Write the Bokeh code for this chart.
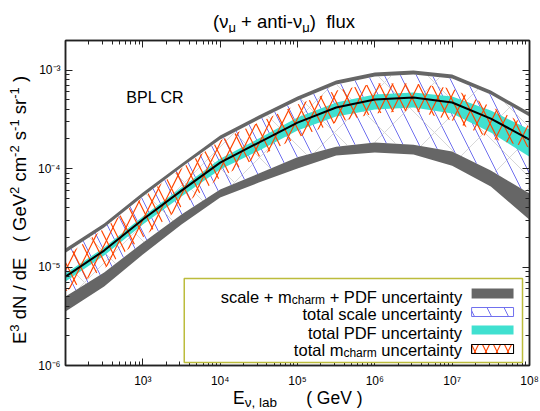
import math
from bokeh.plotting import figure
from bokeh.models import LogAxis, FixedTicker, CustomJSTickFormatter, Label, BoxAnnotation, Div
from bokeh.layouts import column, row
from bokeh.embed import file_html
from bokeh.resources import INLINE

# ---------------- data ----------------
energy_gev = [1.0e2, 3.16e2, 1.0e3, 3.16e3, 1.0e4, 3.16e4, 1.0e5, 3.16e5, 1.0e6, 3.16e6, 1.0e7, 3.16e7, 1.0e8]
central = [8.0e-6, 1.47e-5, 3.04e-5, 5.98e-5, 1.15e-4, 1.84e-4, 2.93e-4, 4.17e-4, 5.03e-4, 5.27e-4, 4.69e-4, 3.22e-4, 1.97e-4]
total_hi = [1.54e-5, 2.77e-5, 5.71e-5, 1.12e-4, 2.17e-4, 3.46e-4, 5.40e-4, 7.84e-4, 9.45e-4, 9.91e-4, 9.02e-4, 6.21e-4, 3.71e-4]
total_lo = [3.53e-6, 6.34e-6, 1.34e-5, 2.71e-5, 5.08e-5, 7.21e-5, 1.00e-4, 1.36e-4, 1.46e-4, 1.39e-4, 1.07e-4, 6.56e-5, 3.03e-5]
scale_hi = [1.40e-5, 2.52e-5, 5.20e-5, 1.03e-4, 1.97e-4, 3.15e-4, 4.91e-4, 7.14e-4, 8.61e-4, 9.02e-4, 8.22e-4, 5.65e-4, 3.38e-4]
scale_lo = [5.01e-6, 8.79e-6, 1.77e-5, 3.41e-5, 6.12e-5, 8.91e-5, 1.30e-4, 1.67e-4, 1.84e-4, 1.75e-4, 1.49e-4, 9.55e-5, 5.58e-5]
pdf_hi = [8.59e-6, 1.58e-5, 3.26e-5, 6.43e-5, 1.26e-4, 2.02e-4, 3.30e-4, 4.69e-4, 5.65e-4, 5.92e-4, 5.40e-4, 3.89e-4, 2.49e-4]
pdf_lo = [7.13e-6, 1.31e-5, 2.71e-5, 5.20e-5, 9.77e-5, 1.52e-4, 2.44e-4, 3.38e-4, 3.98e-4, 4.17e-4, 3.62e-4, 2.32e-4, 1.32e-4]
mcharm_hi = [1.28e-5, 2.46e-5, 5.08e-5, 1.00e-4, 1.93e-4, 2.94e-4, 4.48e-4, 6.21e-4, 7.31e-4, 7.31e-4, 6.50e-4, 4.27e-4, 2.67e-4]
mcharm_lo = [5.64e-6, 9.66e-6, 2.00e-5, 4.12e-5, 8.11e-5, 1.32e-4, 2.07e-4, 2.94e-4, 3.62e-4, 3.89e-4, 3.08e-4, 2.02e-4, 1.64e-4]

x_major = [1e3, 1e4, 1e5, 1e6, 1e7, 1e8]
y_major = [1e-6, 1e-5, 1e-4, 1e-3]
x_minor = [k * 10.0 ** n for n in range(2, 8) for k in range(2, 10)]
y_minor = [k * 10.0 ** n for n in range(-6, -2) for k in range(2, 10)]

XMIN, XMAX = 1e2, 1e8
YMIN, YMAX = 1e-6, 2e-3

FONT = "Liberation Sans"
CSSFONT = "font-family:'Liberation Sans',Arial,sans-serif;color:#000;white-space:nowrap;"
GREY = "#666666"
BLUE = "#7070ee"
TURQ = "#40e0d0"
RED = "#ff4500"

# page layout: title strip 0..32, plot row 32..390, x-label strip 390..411
TITLE_H, MID_H, XLAB_H = 32, 358, 21
YLAB_W = 34
FIG_W = 540 - YLAB_W
# frame in page pixels
FL, FR, FT, FB = 64, 529, 40, 365


def XD(px):
    return 10 ** (math.log10(XMIN) + (px - FL) / (FR - FL) * math.log10(XMAX / XMIN))


def YD(py):
    return 10 ** (math.log10(YMAX) - (py - FT) / (FB - FT) * math.log10(YMAX / YMIN))


p = figure(width=FIG_W, height=MID_H, x_axis_type="log", y_axis_type="log",
           x_range=(XMIN, XMAX), y_range=(YMIN, YMAX), title=None,
           output_backend="svg", toolbar_location=None,
           min_border_left=FL - YLAB_W, min_border_right=FIG_W - (FR - YLAB_W),
           min_border_top=FT - TITLE_H, min_border_bottom=MID_H - (FB - TITLE_H))
p.grid.visible = False
p.outline_line_color = "#222222"
p.outline_line_width = 1.5

sup_js = """
const e = Math.round(Math.log10(tick));
const m = {"-":"\u207b","0":"\u2070","1":"\u00b9","2":"\u00b2","3":"\u00b3","4":"\u2074","5":"\u2075","6":"\u2076","7":"\u2077","8":"\u2078","9":"\u2079"};
return "10" + String(e).split("").map(c => m[c]).join("");
"""
blank_js = "return '';"


def style_axis(ax, ticks, minor, labels=True, standoff=8):
    ax.ticker = FixedTicker(ticks=ticks, minor_ticks=minor)
    ax.major_tick_in = 7
    ax.major_tick_out = 0
    ax.minor_tick_in = 4
    ax.minor_tick_out = 0
    ax.axis_line_color = "#222222"
    ax.axis_line_width = 1.5
    ax.major_tick_line_color = "#222222"
    ax.minor_tick_line_color = "#222222"
    ax.major_label_text_font = FONT
    ax.major_label_text_color = "black"
    if labels:
        ax.formatter = CustomJSTickFormatter(code=sup_js)
        ax.major_label_standoff = standoff
        ax.major_label_text_font_size = "12px"
    else:
        ax.formatter = CustomJSTickFormatter(code=blank_js)
        ax.major_label_standoff = 0
        ax.major_label_text_font_size = "0px"


style_axis(p.xaxis[0], x_major, x_minor, standoff=8)
style_axis(p.yaxis[0], y_major, y_minor, standoff=5)
ax_top = LogAxis()
ax_right = LogAxis()
style_axis(ax_top, x_major, x_minor, labels=False)
style_axis(ax_right, y_major, y_minor, labels=False)
p.add_layout(ax_top, "above")
p.add_layout(ax_right, "right")

# ---------------- bands ----------------
p.varea(x=energy_gev, y1=total_lo, y2=total_hi, fill_color=GREY)
p.varea(x=energy_gev, y1=scale_lo, y2=scale_hi, fill_color="white",
        hatch_pattern="\\", hatch_color=BLUE, hatch_scale=32, hatch_weight=1.0)
p.varea(x=energy_gev, y1=scale_lo, y2=scale_hi, fill_alpha=0,
        hatch_pattern="x", hatch_color="#b4b4b4", hatch_scale=50, hatch_weight=0.6, hatch_alpha=0.9)
p.varea(x=energy_gev, y1=pdf_lo, y2=pdf_hi, fill_color=TURQ)
for pat in ("/", "\\"):
    p.varea(x=energy_gev, y1=mcharm_lo, y2=mcharm_hi, fill_alpha=0,
            hatch_pattern=pat, hatch_color=RED, hatch_scale=26, hatch_weight=1.2)
p.line(x=energy_gev, y=central, line_color="black", line_width=2)

# ---------------- in-frame text ----------------
ARIAL = {" ": 278, "(": 333, ")": 333, "+": 584, ",": 278, "-": 333, "/": 278,
         "A": 667, "B": 667, "C": 722, "D": 722, "E": 667, "F": 611, "G": 778, "L": 556,
         "N": 722, "P": 667, "R": 722, "V": 667, "a": 556, "b": 556, "c": 500, "d": 556,
         "e": 556, "f": 278, "h": 556, "i": 222, "l": 222, "m": 833, "n": 556, "o": 556,
         "p": 556, "r": 333, "s": 500, "t": 278, "u": 556, "x": 500, "y": 500}


def tw(s, size):
    return sum(ARIAL.get(c, 556) for c in s) * size / 1000.0


def runs(px, py, parts, align="left"):
    total = sum(tw(t, s) for t, s, d in parts)
    start = px if align == "left" else (px - total if align == "right" else px - total / 2)
    off = 0.0
    for t, s, d in parts:
        lead = len(t) - len(t.lstrip(" "))
        off += tw(" " * lead, s)
        body = t.strip(" ")
        p.add_layout(Label(x=XD(start), y=YD(py + d), x_offset=off, text=body,
                           text_font=FONT, text_font_size=f"{s}px", text_color="black",
                           text_align="left", text_baseline="alphabetic"))
        off += tw(t, s) - tw(" " * lead, s)


p.add_layout(Label(x=XD(125), y=YD(97), text="BPL CR", text_font=FONT,
                   text_font_size="16px", text_color="black",
                   text_align="left", text_baseline="alphabetic"))

# ---------------- legend ----------------
p.add_layout(BoxAnnotation(left=XD(183), right=XD(522), top=YD(278), bottom=YD(362),
                           fill_color="white", fill_alpha=1, line_color="#bcbc3c",
                           line_width=1.5, line_alpha=1))
p.add_layout(BoxAnnotation(left=XD(471), right=XD(513), top=YD(288), bottom=YD(298),
                           fill_color=GREY, fill_alpha=1, line_color=None))
p.add_layout(BoxAnnotation(left=XD(471), right=XD(513), top=YD(307), bottom=YD(316),
                           fill_color="white", fill_alpha=1, line_color=BLUE, line_width=1,
                           line_alpha=1, hatch_pattern="\\", hatch_color=BLUE, hatch_scale=34))
p.add_layout(BoxAnnotation(left=XD(471), right=XD(513), top=YD(325), bottom=YD(334),
                           fill_color=TURQ, fill_alpha=1, line_color=None))
p.add_layout(BoxAnnotation(left=XD(471), right=XD(513), top=YD(344), bottom=YD(353),
                           fill_color="white", fill_alpha=1, line_color="black", line_width=1,
                           line_alpha=1, hatch_pattern="/", hatch_color=RED, hatch_scale=22,
                           hatch_weight=1.2))
p.add_layout(BoxAnnotation(left=XD(471), right=XD(513), top=YD(344), bottom=YD(353),
                           fill_alpha=0, line_color="black", line_width=1,
                           line_alpha=1, hatch_pattern="\\", hatch_color=RED, hatch_scale=22,
                           hatch_weight=1.2))

LS, SS = 16.5, 12
runs(461, 296, [("scale + m", LS, 0), ("charm", SS, 3), (" + PDF uncertainty", LS, 0)], align="right")
runs(461, 313, [("total scale uncertainty", LS, 0)], align="right")
runs(461, 332, [("total PDF uncertainty", LS, 0)], align="right")
runs(461, 349, [("total m", LS, 0), ("charm", SS, 3), (" uncertainty", LS, 0)], align="right")

# ---------------- outside-frame text as HTML ----------------
def sub(t, size, dy=4):
    return f'<span style="font-size:{size}px;position:relative;top:{dy}px">{t}</span>'


def sup(t):
    return f'<span style="font-size:13px;position:relative;top:-7px">{t}</span>'


title_html = (
    f'<div style="position:relative;width:540px;height:{TITLE_H}px;">'
    f'<div style="position:absolute;left:213px;top:11px;font-size:18.5px;line-height:21px;{CSSFONT}">'
    f'(\u03bd{sub("μ", 13)} + anti-\u03bd{sub("μ", 13)})&nbsp;&nbsp;flux</div></div>'
)
xlab_html = (
    f'<div style="position:relative;width:540px;height:{XLAB_H}px;overflow:visible;">'
    f'<div style="position:absolute;left:233px;top:0px;font-size:17.5px;line-height:17px;{CSSFONT}">'
    f'E{sub("ν, lab", 13.5, 3)}&nbsp;&nbsp;&nbsp;&nbsp;&nbsp;&nbsp;( GeV )</div></div>'
)
ylab_html = (
    f'<div style="position:relative;width:{YLAB_W}px;height:{MID_H}px;">'
    f'<div style="position:absolute;left:20px;top:{210 - TITLE_H}px;'
    f'transform:translate(-50%,-50%) rotate(-90deg);font-size:18.5px;line-height:21px;{CSSFONT}">'
    f'E{sup("3")} dN / dE &nbsp;&nbsp;( GeV{sup("2")} cm{sup("-2")} s{sup("-1")} sr{sup("-1")} )'
    f'</div></div>'
)

title_div = Div(text=title_html, width=540, height=TITLE_H, margin=0)
xlab_div = Div(text=xlab_html, width=540, height=XLAB_H, margin=0)
ylab_div = Div(text=ylab_html, width=YLAB_W, height=MID_H, margin=0)

layout = column(title_div, row(ylab_div, p, spacing=0), xlab_div, spacing=0)

open("out.html", "w").write(file_html(layout, INLINE))
